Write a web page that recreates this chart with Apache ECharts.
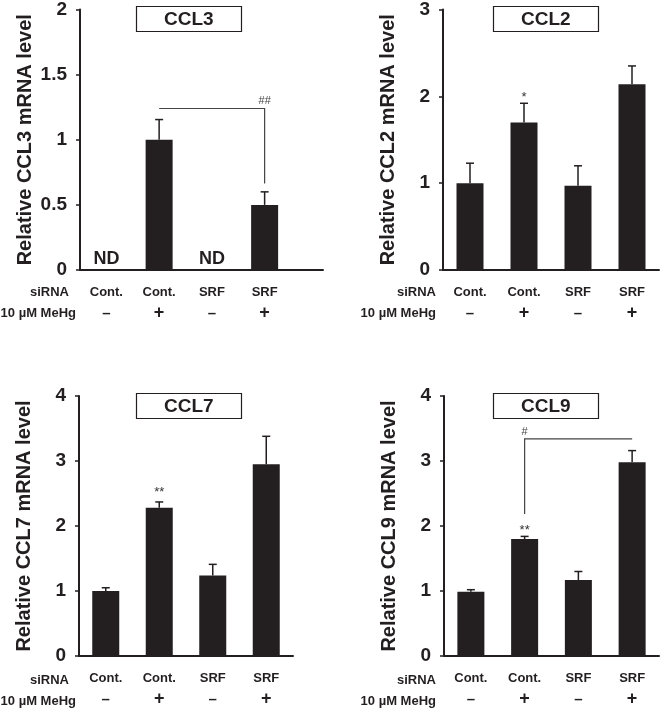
<!DOCTYPE html>
<html>
<head>
<meta charset="utf-8">
<script src="https://cdn.jsdelivr.net/npm/echarts@6/dist/echarts.min.js"></script>
<style>
html,body{margin:0;padding:0;background:#fff;}
#c{width:660px;height:710px;}
</style>
</head>
<body>
<div id="c"></div>
<script>
// ---- data ----
const siRNA = ['Cont.', 'Cont.', 'SRF', 'SRF'];
const meHg = ['–', '+', '–', '+'];

const ccl3Mean = [null, 1.00, null, 0.50];
const ccl3SD   = [null, 0.155, null, 0.10];
const ccl3Notes = ['ND', '', 'ND', ''];

const ccl2Mean = [1.00, 1.70, 0.97, 2.14];
const ccl2SD   = [0.23, 0.22, 0.23, 0.21];
const ccl2Sig  = ['', '*', '', ''];

const ccl7Mean = [1.00, 2.28, 1.24, 2.95];
const ccl7SD   = [0.05, 0.09, 0.17, 0.43];
const ccl7Sig  = ['', '**', '', ''];

const ccl9Mean = [0.99, 1.80, 1.17, 2.98];
const ccl9SD   = [0.03, 0.04, 0.13, 0.18];
const ccl9Sig  = ['', '**', '', ''];

// bracket paths [category, value]
const ccl3Bracket = [[1, 1.24], [3, 1.24], [3, 0.665]];
const ccl3BracketText = [2.87, 1.30, '##'];
const ccl9Bracket = [[1, 2.185], [1, 3.34], [3, 3.34]];
const ccl9BracketText = [1.12, 3.44, '#'];

const yMax = [2, 3, 4, 4];
const yInterval = [0.5, 1, 1, 1];
const genes = ['CCL3', 'CCL2', 'CCL7', 'CCL9'];

// ---- layout ----
const INK = '#231f20';
const FONT = '"Liberation Sans", Arial, Helvetica, sans-serif';
const grids = [
  {left: 80,  top: 7,   width: 211, height: 263},
  {left: 443, top: 8,   width: 216, height: 262},
  {left: 79,  top: 396, width: 214, height: 262},
  {left: 444, top: 396, width: 215, height: 262},
  {left: 80,  top: 7,   width: 243, height: 263} // axis-line extension for CCL3
];
const titlePos = [[136, 6], [493, 6], [136, 393], [493, 393]];

const xAxes = [0,1,2,3].map(i => ({
  type: 'category', gridIndex: i,
  data: siRNA.map((s, k) => '{a|' + s + '}\n{' + (meHg[k] === '+' ? 'p' : 'm') + '|' + meHg[k] + '}'),
  axisLine: {show: i !== 0, lineStyle: {color: INK, width: 2}},
  axisTick: {show: false},
  axisLabel: {
    color: INK, fontFamily: FONT, fontWeight: 'bold', fontSize: 13, lineHeight: 21, margin: 12, interval: 0,
    rich: {
      a: {fontFamily: FONT, fontWeight: 'bold', fontSize: 13, lineHeight: 21, color: INK},
      m: {fontFamily: FONT, fontWeight: 'bold', fontSize: 15, lineHeight: 21, color: INK},
      p: {fontFamily: FONT, fontWeight: 'bold', fontSize: 18, lineHeight: 21, color: INK}
    }
  }
}));
xAxes.push({
  type: 'value', gridIndex: 4, min: 0, max: 1,
  axisLine: {show: true, lineStyle: {color: INK, width: 2}},
  axisTick: {show: false}, axisLabel: {show: false}, splitLine: {show: false}
});

const yAxes = [0,1,2,3].map(i => ({
  type: 'value', gridIndex: i, min: 0, max: yMax[i], interval: yInterval[i],
  name: 'Relative ' + genes[i] + ' mRNA level', nameLocation: 'middle', nameGap: 45,
  nameTextStyle: {color: INK, fontFamily: FONT, fontWeight: 'bold', fontSize: 20},
  axisLine: {show: true, lineStyle: {color: INK, width: 2}},
  axisTick: {show: true, inside: false, length: 4, lineStyle: {color: INK, width: 1.5}},
  axisLabel: {color: INK, fontFamily: FONT, fontWeight: 'bold', fontSize: 19, margin: 13},
  splitLine: {show: false}
}));
yAxes.push({type: 'value', gridIndex: 4, min: 0, max: 1, show: false});

const means = [ccl3Mean, ccl2Mean, ccl7Mean, ccl9Mean];
const sds = [ccl3SD, ccl2SD, ccl7SD, ccl9SD];
const sigs = [['', '', '', ''], ccl2Sig, ccl7Sig, ccl9Sig];
const sigOffset = [0, 6, 10, 6];

const series = [];
for (let i = 0; i < 4; i++) {
  series.push({
    type: 'bar', xAxisIndex: i, yAxisIndex: i, data: means[i], barWidth: 27,
    itemStyle: {color: INK}, silent: true, animation: false
  });
  const errData = [];
  means[i].forEach((m, k) => { if (m != null) errData.push([k, m, m + sds[i][k], sigs[i][k]]); });
  const off = sigOffset[i];
  series.push({
    type: 'custom', xAxisIndex: i, yAxisIndex: i, data: errData, animation: false, silent: true,
    renderItem: function (params, api) {
      const b = api.coord([api.value(0), api.value(1)]);
      const t = api.coord([api.value(0), api.value(2)]);
      const st = {stroke: INK, lineWidth: 1.5};
      const ch = [
        {type: 'line', shape: {x1: b[0], y1: b[1], x2: t[0], y2: t[1]}, style: st},
        {type: 'line', shape: {x1: t[0] - 4, y1: t[1], x2: t[0] + 4, y2: t[1]}, style: st}
      ];
      const s = api.value(3);
      if (s) {
        ch.push({type: 'text', x: t[0], y: t[1] - off, style: {text: s, fill: '#333', font: '13px ' + FONT, textAlign: 'center', textVerticalAlign: 'middle'}});
      }
      return {type: 'group', children: ch};
    }
  });
}
// ND notes
series.push({
  type: 'custom', xAxisIndex: 0, yAxisIndex: 0, animation: false, silent: true,
  data: ccl3Notes.map((n, k) => [k, 0, n]).filter(d => d[2]),
  renderItem: function (params, api) {
    const p = api.coord([api.value(0), api.value(1)]);
    return {type: 'text', x: p[0], y: p[1] - 11, style: {text: api.value(2), fill: INK, font: 'bold 18px ' + FONT, textAlign: 'center', textVerticalAlign: 'middle'}};
  }
});
function bracketSeries(idx, path, txt) {
  return {
    type: 'custom', xAxisIndex: idx, yAxisIndex: idx, animation: false, silent: true,
    data: [0],
    renderItem: function (params, api) {
      const pts = path.map(p => api.coord(p));
      const tp = api.coord([txt[0], txt[1]]);
      return {type: 'group', children: [
        {type: 'polyline', shape: {points: pts}, style: {stroke: '#444', lineWidth: 1.2, fill: null}},
        {type: 'text', x: tp[0], y: tp[1], style: {text: txt[2], fill: '#444', font: '11px ' + FONT, textAlign: 'center', textVerticalAlign: 'middle'}}
      ]};
    }
  };
}
series.push(bracketSeries(0, ccl3Bracket, ccl3BracketText));
series.push(bracketSeries(3, ccl9Bracket, ccl9BracketText));

const titles = genes.map((g, i) => ({
  text: g, left: titlePos[i][0], top: titlePos[i][1],
  padding: [4, 28, 3, 28], borderWidth: 1.2, borderColor: INK,
  textStyle: {color: INK, fontFamily: FONT, fontWeight: 'bold', fontSize: 19, lineHeight: 19}
}));

// row headers
const rowHeaders = [];
[[69, 76, 270], [436, 436, 270], [69, 76, 658], [436, 436, 658]].forEach(r => {
  rowHeaders.push({type: 'text', style: {text: 'siRNA', x: r[0], y: r[2] + 22, textAlign: 'right', textVerticalAlign: 'middle', fill: INK, font: 'bold 13px ' + FONT}});
  rowHeaders.push({type: 'text', style: {text: '10 µM MeHg', x: r[1], y: r[2] + 43, textAlign: 'right', textVerticalAlign: 'middle', fill: INK, font: 'bold 13px ' + FONT}});
});

const chart = echarts.init(document.getElementById('c'), null, {renderer: 'canvas'});
chart.setOption({
  animation: false,
  backgroundColor: '#fff',
  title: titles,
  grid: grids,
  xAxis: xAxes,
  yAxis: yAxes,
  series: series,
  graphic: rowHeaders
});
</script>
</body>
</html>
